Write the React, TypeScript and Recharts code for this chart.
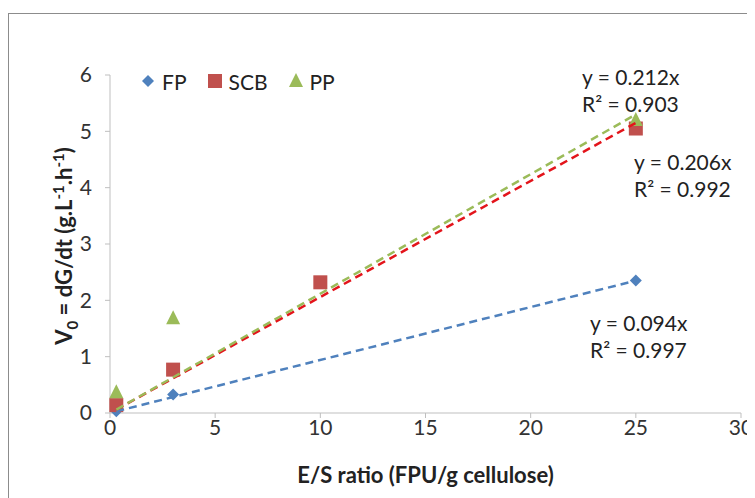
import React from "react";
import { ScatterChart, Scatter, XAxis, YAxis } from "recharts";

// measured points (E/S ratio vs initial rate)
const fpPoints = [
  { x: 0.3, y: 0.03 },
  { x: 3, y: 0.33 },
  { x: 25, y: 2.35 },
];
const scbPoints = [
  { x: 0.3, y: 0.14 },
  { x: 3, y: 0.77 },
  { x: 10, y: 2.32 },
  { x: 25, y: 5.05 },
];
const ppPoints = [
  { x: 0.3, y: 0.37 },
  { x: 3, y: 1.68 },
  { x: 25, y: 5.2 },
];

// linear trend lines (through origin), end points
const fpTrend = [
  { x: 0.3, y: 0.03 },
  { x: 25, y: 2.35 },
];
const scbTrend = [
  { x: 0.3, y: 0.06 },
  { x: 25, y: 5.15 },
];
const ppTrend = [
  { x: 0.3, y: 0.06 },
  { x: 25, y: 5.3 },
];

const xTicks = [0, 5, 10, 15, 20, 25, 30];
const yTicks = [0, 1, 2, 3, 4, 5, 6];

const FONT = "Lato, 'Open Sans', sans-serif";
const BLUE = "#4F81BD";
const RED = "#C0504D";
const GREEN = "#9BBB59";

const Diamond = ({ cx, cy }: any) => (
  <path d={`M${cx},${cy - 6} L${cx + 6},${cy} L${cx},${cy + 6} L${cx - 6},${cy} Z`} fill={BLUE} />
);
const Square = ({ cx, cy }: any) => (
  <rect x={cx - 7} y={cy - 7} width={14} height={14} fill={RED} />
);
const Triangle = ({ cx, cy }: any) => (
  <path d={`M${cx},${cy - 8} L${cx + 7},${cy + 6} L${cx - 7},${cy + 6} Z`} fill={GREEN} />
);
const Nothing = () => <g />;

const legendItems = [
  { name: "FP", Icon: Diamond },
  { name: "SCB", Icon: Square },
  { name: "PP", Icon: Triangle },
];

const eqStyle: React.CSSProperties = {
  position: "absolute",
  fontFamily: FONT,
  fontSize: 21,
  lineHeight: "27px",
  color: "#222",
  whiteSpace: "nowrap",
};

const App: React.FC = () => {
  return (
    <div style={{ position: "relative", width: 747, height: 490, overflow: "hidden", fontFamily: FONT }}>
      <div
        style={{
          position: "absolute",
          left: 0,
          top: 5,
          width: 900,
          height: 700,
          borderLeft: "1px solid #8c8c8c",
          borderTop: "1px solid #8c8c8c",
        }}
      />
      <div style={{ position: "absolute", left: 0, top: 5 }}>
        <ScatterChart width={747} height={477} margin={{ top: 62, right: 14, bottom: 0, left: 0 }}>
          <XAxis
            type="number"
            dataKey="x"
            domain={[0, 30]}
            ticks={xTicks}
            height={77}
            tickSize={5}
            tickMargin={2}
            stroke="#BFBFBF"
            tick={{ fill: "#333", fontSize: 21, fontFamily: FONT }}
          />
          <YAxis
            type="number"
            dataKey="y"
            domain={[0, 6]}
            ticks={yTicks}
            width={102}
            tickSize={5}
            tickMargin={13}
            stroke="#BFBFBF"
            tick={{ fill: "#333", fontSize: 21, fontFamily: FONT }}
          />
          <Scatter name="FP" data={fpPoints} shape={Diamond} isAnimationActive={false} />
          <Scatter name="SCB" data={scbPoints} shape={Square} isAnimationActive={false} />
          <Scatter name="PP" data={ppPoints} shape={Triangle} isAnimationActive={false} />
          <Scatter
            name="FP trend"
            data={fpTrend}
            shape={Nothing}
            legendType="none"
            line={{ stroke: BLUE, strokeWidth: 2.5, strokeDasharray: "8 5" }}
            isAnimationActive={false}
          />
          <Scatter
            name="SCB trend"
            data={scbTrend}
            shape={Nothing}
            legendType="none"
            line={{ stroke: "#E3141B", strokeWidth: 2.5, strokeDasharray: "8 5" }}
            isAnimationActive={false}
          />
          <Scatter
            name="PP trend"
            data={ppTrend}
            shape={Nothing}
            legendType="none"
            line={{ stroke: GREEN, strokeWidth: 2.5, strokeDasharray: "8 5" }}
            isAnimationActive={false}
          />
        </ScatterChart>
      </div>

      {/* legend */}
      <div
        style={{
          position: "absolute",
          left: 132,
          top: 61,
          display: "flex",
          alignItems: "center",
          fontSize: 21,
          color: "#222",
          height: 24,
        }}
      >
        {legendItems.map(({ name, Icon }) => (
          <div key={name} style={{ display: "flex", alignItems: "center", marginRight: 20 }}>
            <svg width={16} height={16} style={{ marginRight: 6 }}>
              <Icon cx={8} cy={8} />
            </svg>
            <span>{name}</span>
          </div>
        ))}
      </div>

      <div style={{ ...eqStyle, left: 574, top: 55 }}>
        y = 0.212x
        <br />
        R² = 0.903
      </div>
      <div style={{ ...eqStyle, left: 626, top: 140 }}>
        y = 0.206x
        <br />
        R² = 0.992
      </div>
      <div style={{ ...eqStyle, left: 582, top: 301 }}>
        y = 0.094x
        <br />
        R² = 0.997
      </div>

      <div
        style={{
          position: "absolute",
          left: 102,
          width: 631,
          top: 455,
          lineHeight: "24px",
          textAlign: "center",
          fontWeight: "bold",
          fontSize: 22,
          color: "#222",
        }}
      >
        E/S ratio (FPU/g cellulose)
      </div>
      <div
        style={{
          position: "absolute",
          left: -100,
          top: 226,
          width: 300,
          height: 24,
          lineHeight: "24px",
          textAlign: "center",
          fontWeight: "bold",
          fontSize: 22,
          color: "#222",
          transform: "rotate(-90deg)",
          whiteSpace: "nowrap",
        }}
      >
        V<sub style={{ fontSize: 15 }}>0</sub> = dG/dt (g.L<sup style={{ fontSize: 15 }}>-1</sup>.h
        <sup style={{ fontSize: 15 }}>-1</sup>)
      </div>
    </div>
  );
};

export default App;
